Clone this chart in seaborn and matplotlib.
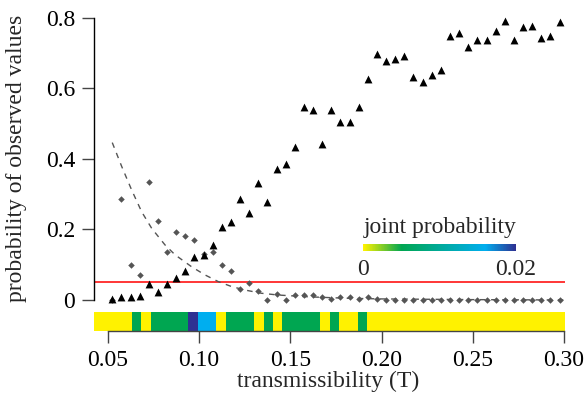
import numpy as np
import matplotlib
matplotlib.use('Agg')
import matplotlib.pyplot as plt
from matplotlib.colors import LinearSegmentedColormap
import seaborn as sns

#####################################
# data
transmissibility = np.round(0.0525 + 0.005 * np.arange(50), 4)

prob_triangles = [0.003, 0.008, 0.008, 0.012, 0.046, 0.022, 0.046, 0.063, 0.082, 0.123,
                  0.127, 0.157, 0.207, 0.222, 0.286, 0.247, 0.332, 0.277, 0.372, 0.386,
                  0.433, 0.547, 0.537, 0.443, 0.537, 0.503, 0.503, 0.548, 0.627, 0.697,
                  0.677, 0.683, 0.692, 0.632, 0.618, 0.638, 0.652, 0.748, 0.757, 0.717,
                  0.738, 0.737, 0.762, 0.791, 0.737, 0.773, 0.777, 0.742, 0.748, 0.788]

prob_diamonds = [0.0, 0.286, 0.100, 0.072, 0.333, 0.223, 0.135, 0.192, 0.181, 0.171,
                 0.130, 0.135, 0.099, 0.082, 0.031, 0.048, 0.025, 0.0, 0.016, 0.0,
                 0.014, 0.014, 0.014, 0.009, 0.003, 0.009, 0.009, 0.003, 0.009, 0.002,
                 0.001, 0.001, 0.001, 0.001, 0.001, 0.001, 0.001, 0.001, 0.001, 0.001,
                 0.001, 0.001, 0.001, 0.001, 0.001, 0.001, 0.001, 0.001, 0.001, 0.001]

# dashed fitted curve
curve_x = [0.0525, 0.0577, 0.0631, 0.0686, 0.0741, 0.0814, 0.0869, 0.096, 0.1033,
           0.1106, 0.1179, 0.1254, 0.1343, 0.1434, 0.16, 0.18, 0.20, 0.25, 0.30]
curve_y = [0.446, 0.378, 0.312, 0.250, 0.203, 0.156, 0.128, 0.094, 0.071,
           0.052, 0.038, 0.028, 0.019, 0.014, 0.009, 0.005, 0.003, 0.001, 0.0]

threshold = 0.05

# joint probability strip, 50 cells
joint_prob = [0, 0, 0, 0, 0.005, 0, 0.005, 0.005, 0.005, 0.005,
              0.02, 0.016, 0.016, 0, 0.005, 0.005, 0.005, 0, 0.005, 0,
              0.005, 0.005, 0.005, 0.005, 0, 0.005, 0, 0, 0.005, 0,
              0, 0, 0, 0, 0, 0, 0, 0, 0, 0,
              0, 0, 0, 0, 0, 0, 0, 0, 0, 0]

x_ticks = [0.05, 0.10, 0.15, 0.20, 0.25, 0.30]
x_ticklabels = ['0.05', '0.10', '0.15', '0.20', '0.25', '0.30']
y_ticks = [0, 0.2, 0.4, 0.6, 0.8]
y_ticklabels = ['0', '0.2', '0.4', '0.6', '0.8']

#####################################
sns.set_style('ticks')
plt.rcParams['font.family'] = ['Liberation Serif', 'DejaVu Serif']
plt.rcParams['font.size'] = 17

cmap = LinearSegmentedColormap.from_list(
    'joint', [(0, '#fff200'), (0.25, '#00a651'), (0.8, '#00aeef'), (1.0, '#2e3192')])

fig = plt.figure(figsize=(5.85, 4.05), dpi=100)
ax = fig.add_axes([94 / 585, 0.1822, 471 / 585, 0.7916])

x_left, x_right = 0.0425, 0.3005
y_bottom, y_top = -0.0885, 0.82

# strip of joint probability
strip_edges = np.linspace(x_left, x_right, len(joint_prob) + 1)
mesh = ax.pcolormesh(strip_edges, [y_bottom, -0.034], np.array([joint_prob]),
                     cmap=cmap, vmin=0, vmax=0.02)

ax.axhline(threshold, color='red', lw=1.1, zorder=1)
sns.lineplot(x=curve_x, y=curve_y, ax=ax, color='#555555', lw=1.0,
             linestyle=(0, (4, 4)), zorder=2)
sns.scatterplot(x=transmissibility, y=prob_diamonds, ax=ax, marker='D', s=11,
                color='#555555', linewidth=0, zorder=3)
sns.scatterplot(x=transmissibility, y=prob_triangles, ax=ax, marker='^', s=32,
                color='black', linewidth=0, zorder=4)

ax.set_xlim(x_left, x_right)
ax.set_ylim(y_bottom, y_top)
ax.set_xticks(x_ticks)
ax.set_xticklabels(x_ticklabels)
ax.set_yticks(y_ticks)
ax.set_yticklabels(y_ticklabels)

for side in ['top', 'right']:
    ax.spines[side].set_visible(False)
ax.spines['left'].set_bounds(0, 0.8)
ax.spines['bottom'].set_bounds(0.05, 0.30)
ax.spines['left'].set_linewidth(1.0)
ax.spines['bottom'].set_linewidth(1.0)
ax.spines['left'].set_color('black')
ax.spines['bottom'].set_color('#444444')
ax.tick_params(axis='both', direction='out', length=8.5, width=1.0, color='#444444',
               labelsize=17, labelcolor='black', bottom=True, left=True)
ax.tick_params(axis='x', pad=5)
ax.tick_params(axis='y', pad=5)

ax.set_xlabel('transmissibility (T)', fontsize=17)
ax.set_ylabel('probability of observed values', fontsize=17)
ax.xaxis.set_label_coords(0.498, -0.125)
ax.yaxis.set_label_coords(-0.142, 0.54)

# colour legend
cax = fig.add_axes([363.3 / 585, (405 - 250.7) / 405, 152.4 / 585, 6.4 / 405])
cbar = fig.colorbar(mesh, cax=cax, orientation='horizontal', ticks=[0, 0.02])
cbar.outline.set_visible(False)
cbar.ax.set_xticklabels(['0', '0.02'])
cbar.ax.tick_params(length=0, pad=6, labelsize=17)
cax.set_title('joint probability', loc='left', fontsize=17, pad=8)

fig.savefig('out.png', dpi=100)
